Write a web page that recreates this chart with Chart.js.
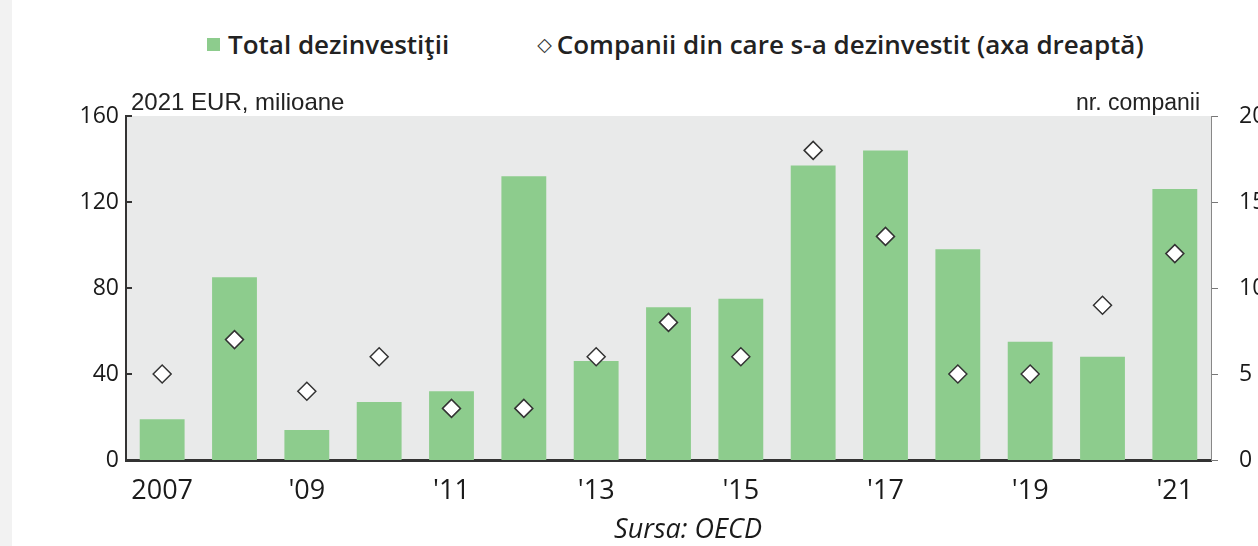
<!DOCTYPE html>
<html>
<head>
<meta charset="utf-8">
<script src="https://cdn.jsdelivr.net/npm/chart.js@4.4.1/dist/chart.umd.min.js"></script>
<style>
    html, body { margin: 0; padding: 0; background: #ffffff; overflow: hidden; }
    body { width: 1258px; height: 546px; position: relative; }
    .strip { position: absolute; left: 0; top: 0; width: 12px; height: 546px; background: #f2f2f2; }
    .chart-box { position: absolute; left: 12px; top: 0; width: 1290px; height: 546px; }
    .legend { position: absolute; left: 207px; top: 26px; display: flex; align-items: center;
              font-family: "Open Sans", sans-serif; font-size: 26px; font-weight: 600; color: #222; white-space: nowrap; }
    .legend .sq { display: inline-block; width: 13px; height: 13px; background: #8dcc8d; margin-right: 8px; }
    .legend .dia { font-family: "DejaVu Sans", sans-serif; font-size: 19px; font-weight: normal; margin-left: 88px; margin-right: 5px; color: #333; }
</style>
</head>
<body>
<div class="strip"></div>
<div class="legend">
    <span class="sq"></span><span>Total dezinvestiţii</span>
    <span class="dia">◇</span><span>Companii din care s-a dezinvestit (axa dreaptă)</span>
</div>
<div class="chart-box"><canvas id="chart"></canvas></div>
<script>
// 数据
const years = ['2007', '2008', '2009', '2010', '2011', '2012', '2013', '2014', '2015', '2016', '2017', '2018', '2019', '2020', '2021'];
const xTickLabels = ['2007', '', "'09", '', "'11", '', "'13", '', "'15", '', "'17", '', "'19", '', "'21"];
const totalDivest = [19, 85, 14, 27, 32, 132, 46, 71, 75, 137, 144, 98, 55, 48, 126];
const companies = [5, 7, 4, 6, 3, 3, 6, 8, 6, 18, 13, 5, 5, 9, 12];
const leftTicks = [0, 40, 80, 120, 160];

const FONT = '"Open Sans", sans-serif';

// 绘图区背景 + 单位标签 + 左轴内刻度 + 来源
const decorPlugin = {
    id: 'decor',
    beforeDraw(chart) {
        const { ctx, chartArea: a } = chart;
        ctx.save();
        ctx.fillStyle = '#e9eaea';
        ctx.fillRect(a.left, a.top, a.right - a.left, a.bottom - a.top);
        ctx.restore();
    },
    afterDraw(chart) {
        const { ctx, chartArea: a } = chart;
        const y = chart.scales.y;
        ctx.save();
        ctx.strokeStyle = '#333';
        ctx.lineWidth = 2;
        leftTicks.forEach(v => {
            const py = Math.round(y.getPixelForValue(v));
            ctx.beginPath();
            ctx.moveTo(a.left, py);
            ctx.lineTo(a.left + 6, py);
            ctx.stroke();
        });
        ctx.fillStyle = '#222';
        ctx.font = '24px "Liberation Sans", Arial, sans-serif';
        ctx.textBaseline = 'alphabetic';
        ctx.textAlign = 'left';
        ctx.fillText('2021 EUR, milioane', a.left + 5, a.top - 6);
        ctx.font = '23px "Liberation Sans", Arial, sans-serif';
        ctx.textAlign = 'right';
        ctx.fillText('nr. companii', a.right - 11, a.top - 6);
        // 来源
        ctx.fillStyle = '#1a1a1a';
        ctx.font = 'italic 27px ' + FONT;
        ctx.textAlign = 'center';
        ctx.textBaseline = 'middle';
        ctx.fillText('Sursa: OECD', 688 - 12, 530);
        ctx.restore();
    }
};

new Chart(document.getElementById('chart'), {
    data: {
        labels: years,
        datasets: [
            {
                type: 'line',
                label: 'Companii din care s-a dezinvestit (axa dreaptă)',
                data: companies,
                yAxisID: 'y2',
                showLine: false,
                pointStyle: 'rectRot',
                pointRadius: 9,
                pointBackgroundColor: '#ffffff',
                pointBorderColor: '#333333',
                pointBorderWidth: 1.5,
                order: 1
            },
            {
                type: 'bar',
                label: 'Total dezinvestiţii',
                data: totalDivest,
                yAxisID: 'y',
                backgroundColor: '#8dcc8d',
                barPercentage: 0.62,
                categoryPercentage: 1,
                order: 2
            }
        ]
    },
    options: {
        responsive: true,
        maintainAspectRatio: false,
        animation: false,
        layout: { padding: { top: 116, left: 0, right: 0, bottom: 0 } },
        plugins: {
            legend: { display: false },
            tooltip: { enabled: false }
        },
        scales: {
            x: {
                offset: true,
                grid: { display: false, drawTicks: false },
                border: { display: true, color: '#333', width: 3 },
                ticks: {
                    autoSkip: false,
                    maxRotation: 0,
                    padding: 15,
                    color: '#1a1a1a',
                    font: { family: FONT, size: 27 },
                    callback: (val, i) => xTickLabels[i]
                },
                afterFit: s => { s.height = 86; }
            },
            y: {
                position: 'left',
                min: 0,
                max: 160,
                grid: { display: false, drawTicks: false },
                border: { display: true, color: '#333', width: 2 },
                ticks: {
                    stepSize: 40,
                    padding: 7,
                    color: '#1a1a1a',
                    font: { family: FONT, size: 23 }
                },
                afterFit: s => { s.width = 114; }
            },
            y2: {
                position: 'right',
                min: 0,
                max: 20,
                grid: { display: true, drawOnChartArea: false, drawTicks: true, tickLength: 7, color: '#777' },
                border: { display: true, color: '#888', width: 1 },
                ticks: {
                    stepSize: 5,
                    padding: 21,
                    color: '#1a1a1a',
                    font: { family: FONT, size: 23 }
                },
                afterFit: s => { s.width = 91; }
            }
        }
    },
    plugins: [decorPlugin]
});
</script>
</body>
</html>
